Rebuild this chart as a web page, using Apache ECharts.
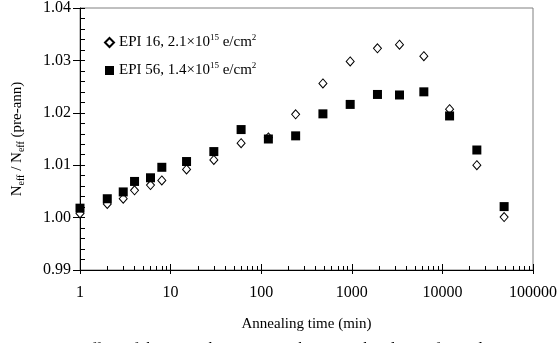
<!DOCTYPE html>
<html>
<head>
<meta charset="utf-8">
<script src="https://cdn.jsdelivr.net/npm/echarts@6/dist/echarts.min.js"></script>
<style>
  html, body { margin: 0; padding: 0; background: #fff; }
  #chart { width: 560px; height: 343px; }
</style>
</head>
<body>
<div id="chart"></div>
<script>
// Annealing times (min)
const annealTimes = [1, 2, 3, 4, 6, 8, 15, 30, 60, 120, 240, 480, 960, 1920, 3360, 6240, 12000, 24000, 48000];
// Normalized effective doping N_eff / N_eff(pre-ann)
const epi16 = [1.0008, 1.0026, 1.0036, 1.0052, 1.0062, 1.0071, 1.0092, 1.0110, 1.0142, 1.0153, 1.0197, 1.0256, 1.0298, 1.0323, 1.0330, 1.0308, 1.0207, 1.0100, 1.0001];
const epi56 = [1.0018, 1.0036, 1.0049, 1.0069, 1.0076, 1.0096, 1.0107, 1.0126, 1.0168, 1.0150, 1.0156, 1.0198, 1.0216, 1.0235, 1.0234, 1.0240, 1.0194, 1.0129, 1.0021];
const seriesNames = ['EPI 16, 2.1×10{sup|15} e/cm{sup|2}', 'EPI 56, 1.4×10{sup|15} e/cm{sup|2}'];
// Minor tick positions on the log time axis (2..9 in each decade), as log10 values
const minorTickExp = [];
for (let d = 0; d < 5; d++) {
  for (let k = 2; k <= 9; k++) minorTickExp.push(d + Math.log10(k));
}

const FONT = 'Liberation Serif';
const chart = echarts.init(document.getElementById('chart'), null, { renderer: 'canvas' });

const pairs = (ys) => annealTimes.map((t, i) => [t, ys[i]]);

chart.setOption({
  animation: false,
  backgroundColor: '#fff',
  textStyle: { fontFamily: FONT, color: '#000' },
  grid: {
    left: 70, right: 26, top: 5.5, bottom: 73,
    show: true, borderColor: '#808080', borderWidth: 1, backgroundColor: 'transparent'
  },
  legend: {
    orient: 'vertical',
    left: 104, top: 33.5, padding: 0,
    itemGap: 10, itemWidth: 9, itemHeight: 9,
    data: [seriesNames[0], seriesNames[1]],
    formatter: (n) => n,
    textStyle: {
      fontFamily: FONT, fontSize: 15, color: '#000', lineHeight: 18,
      rich: {
        sup: { fontFamily: FONT, fontSize: 9, color: '#000', verticalAlign: 'top', lineHeight: 12 }
      }
    }
  },
  xAxis: [
    {
      type: 'log', logBase: 10, min: 1, max: 100000,
      name: 'Annealing time (min)', nameLocation: 'middle', nameGap: 47,
      nameTextStyle: { fontFamily: FONT, fontSize: 15, color: '#000' },
      axisLine: { show: true, lineStyle: { color: '#000', width: 1 } },
      axisTick: { show: true, inside: false, length: 4, lineStyle: { color: '#000' } },
      axisLabel: {
        fontFamily: FONT, fontSize: 16, color: '#000', margin: 15,
        formatter: (v) => String(Math.round(v))
      },
      splitLine: { show: false },
      minorTick: { show: false }
    },
    {
      type: 'log', logBase: 10, min: 1, max: 100000, position: 'bottom',
      axisLine: { show: false },
      axisTick: { show: true, inside: true, length: 6, lineStyle: { color: '#000' } },
      axisLabel: { show: false },
      splitLine: { show: false }
    },
    {
      type: 'value', min: 0, max: 5, position: 'bottom',
      axisLine: { show: false },
      axisTick: { show: true, inside: true, length: 4, customValues: minorTickExp, lineStyle: { color: '#000' } },
      axisLabel: { show: false },
      splitLine: { show: false }
    }
  ],
  yAxis: [
    {
      type: 'value', min: 0.99, max: 1.04, interval: 0.01,
      name: 'N{sub|eff} / N{sub|eff} (pre-ann)', nameLocation: 'middle', nameGap: 54, nameRotate: 90,
      nameTextStyle: {
        fontFamily: FONT, fontSize: 15, color: '#000', lineHeight: 18,
        rich: { sub: { fontFamily: FONT, fontSize: 10, color: '#000', verticalAlign: 'bottom', lineHeight: 12 } }
      },
      axisLine: { show: true, lineStyle: { color: '#000', width: 1 } },
      axisTick: { show: true, inside: false, length: 7, lineStyle: { color: '#000' } },
      axisLabel: {
        fontFamily: FONT, fontSize: 16, color: '#000', margin: 9,
        formatter: (v) => v.toFixed(2)
      },
      splitLine: { show: false }
    },
    {
      type: 'value', min: 0.99, max: 1.04, interval: 0.01, position: 'left',
      axisLine: { show: false },
      axisTick: { show: true, inside: true, length: 5, lineStyle: { color: '#000' } },
      minorTick: { show: true, splitNumber: 5, length: 5, lineStyle: { color: '#000' } },
      axisLabel: { show: false },
      splitLine: { show: false },
      minorSplitLine: { show: false }
    }
  ],
  series: [
    {
      name: seriesNames[0], type: 'scatter', xAxisIndex: 0, yAxisIndex: 0,
      symbol: 'diamond', symbolSize: [8, 9],
      itemStyle: { color: '#fff', borderColor: '#000', borderWidth: 1, opacity: 1 },
      data: pairs(epi16), z: 3
    },
    {
      name: seriesNames[1], type: 'scatter', xAxisIndex: 0, yAxisIndex: 0,
      symbol: 'rect', symbolSize: 9,
      itemStyle: { color: '#000', opacity: 1 },
      data: pairs(epi56), z: 4
    }
  ],
  graphic: [
    {
      type: 'text', left: 62, top: 341.5, silent: true,
      style: {
        text: '6. Effect of the annealing time on the normalized N{sub|eff} of EPI detectors',
        fontFamily: FONT, fontSize: 17, fontStyle: 'italic', fill: '#000',
        rich: { sub: { fontFamily: FONT, fontSize: 11, fontStyle: 'italic', fill: '#000', verticalAlign: 'bottom' } }
      }
    }
  ]
});
</script>
</body>
</html>
